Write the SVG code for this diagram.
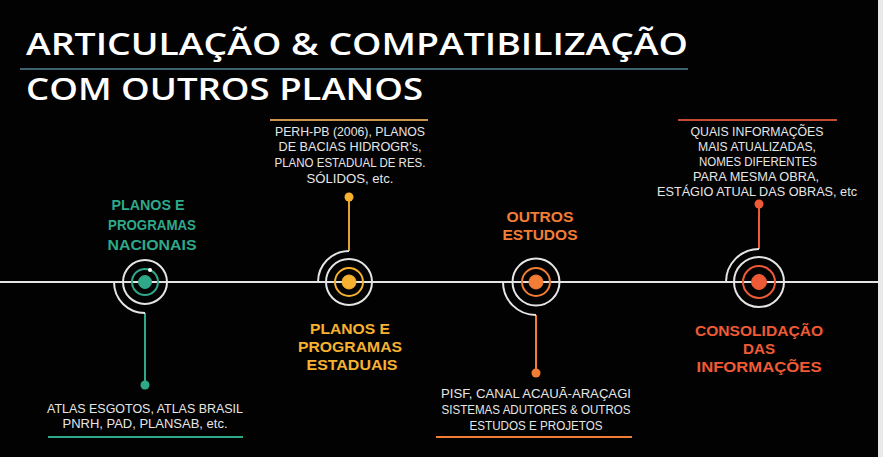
<svg xmlns="http://www.w3.org/2000/svg" width="883" height="457" viewBox="0 0 883 457">
<style>
.title{font-family:"Open Sans","Noto Sans",sans-serif;font-weight:600;font-size:31px;fill:#ffffff}
.head{font-family:"Liberation Sans","Arial",sans-serif;font-weight:700;font-size:15.5px;text-anchor:middle}
.body{font-family:"Liberation Sans","DejaVu Sans",sans-serif;font-size:12px;fill:#e6e6e6;text-anchor:middle}
.white{fill:none;stroke:#e4e4e4;stroke-width:2}
.teal{fill:#2fa88a;stroke:#2fa88a}
.gold{fill:#f6b12f;stroke:#f6b12f}
.orange{fill:#f27d35;stroke:#f27d35}
.red{fill:#ef5a36;stroke:#ef5a36}
.ring{fill:none;stroke-width:2}
</style>
<rect x="0" y="0" width="883" height="457" fill="#020202"/>
<rect x="878" y="0" width="5" height="457" fill="#e9e9e9"/>
<g id="title">
<text class="title" x="26" y="55" textLength="662" lengthAdjust="spacingAndGlyphs">ARTICULAÇÃO &amp; COMPATIBILIZAÇÃO</text>
<line x1="20" y1="69" x2="688" y2="69" stroke="#3e6170" stroke-width="2"/>
<text class="title" x="26" y="100" textLength="397" lengthAdjust="spacingAndGlyphs">COM OUTROS PLANOS</text>
</g>
<g id="connectors">
<line x1="0" y1="282" x2="878" y2="282" stroke="#e4e4e4" stroke-width="2"/>
<line x1="145" y1="313" x2="145" y2="385" stroke="#2fa88a" stroke-width="2"/>
<circle cx="145" cy="385" r="4.5" fill="#2fa88a"/>
<line x1="349" y1="251" x2="349" y2="197" stroke="#e0a235" stroke-width="2"/>
<circle cx="349" cy="197" r="4.5" fill="#f6b12f"/>
<line x1="536" y1="315" x2="536" y2="373" stroke="#f27d35" stroke-width="2"/>
<circle cx="536" cy="373" r="4.5" fill="#f27d35"/>
<line x1="759" y1="249" x2="759" y2="204" stroke="#ef5a36" stroke-width="2"/>
<circle cx="759" cy="204" r="4.5" fill="#ef5a36"/>
</g>
<g id="node-nacionais">
<path class="white" d="M114 282 A31 31 0 0 0 145 313"/>
<circle class="white" cx="145" cy="282" r="22"/>
<circle class="ring teal" cx="145" cy="282" r="13"/>
<circle class="teal" cx="145" cy="282" r="6.5" stroke="none"/>
<circle cx="150" cy="270" r="2" fill="#ffffff"/>
<g class="head" fill="#2fa88a">
<text x="148" y="210" textLength="73" lengthAdjust="spacingAndGlyphs">PLANOS E</text>
<text x="152" y="230" textLength="88" lengthAdjust="spacingAndGlyphs">PROGRAMAS</text>
<text x="152" y="250" textLength="89" lengthAdjust="spacingAndGlyphs">NACIONAIS</text>
</g>
<g class="body">
<text x="145" y="413" textLength="196" lengthAdjust="spacingAndGlyphs">ATLAS ESGOTOS, ATLAS BRASIL</text>
<text x="145" y="428" textLength="165" lengthAdjust="spacingAndGlyphs">PNRH, PAD, PLANSAB, etc.</text>
</g>
<line x1="48" y1="437" x2="243" y2="437" stroke="#2fa88a" stroke-width="2"/>
</g>
<g id="node-estaduais">
<path class="white" d="M318 282 A31 31 0 0 1 349 251"/>
<circle class="white" cx="349" cy="282" r="23"/>
<circle class="ring gold" cx="349" cy="282" r="14" stroke="#e0a235"/>
<circle class="gold" cx="349" cy="282" r="7" stroke="none"/>
<line x1="270" y1="120" x2="428" y2="120" stroke="#c9954c" stroke-width="2"/>
<g class="body">
<text x="350" y="136" textLength="150" lengthAdjust="spacingAndGlyphs">PERH-PB (2006), PLANOS</text>
<text x="350" y="151" textLength="143" lengthAdjust="spacingAndGlyphs">DE BACIAS HIDROGR's,</text>
<text x="350" y="167" textLength="151" lengthAdjust="spacingAndGlyphs">PLANO ESTADUAL DE RES.</text>
<text x="350" y="183" textLength="87" lengthAdjust="spacingAndGlyphs">SÓLIDOS, etc.</text>
</g>
<g class="head" fill="#f6b12f">
<text x="350" y="334" textLength="80" lengthAdjust="spacingAndGlyphs">PLANOS E</text>
<text x="350" y="352" textLength="104" lengthAdjust="spacingAndGlyphs">PROGRAMAS</text>
<text x="352" y="370" textLength="91" lengthAdjust="spacingAndGlyphs">ESTADUAIS</text>
</g>
</g>
<g id="node-outros">
<path class="white" d="M503 282 A33 33 0 0 0 536 315"/>
<circle class="white" cx="536" cy="282" r="23.5"/>
<circle class="ring orange" cx="536" cy="282" r="14"/>
<circle class="orange" cx="536" cy="282" r="7" stroke="none"/>
<g class="head" fill="#f27d35">
<text x="540" y="222" textLength="67" lengthAdjust="spacingAndGlyphs">OUTROS</text>
<text x="540" y="240" textLength="75" lengthAdjust="spacingAndGlyphs">ESTUDOS</text>
</g>
<g class="body">
<text x="536" y="398" textLength="190" lengthAdjust="spacingAndGlyphs">PISF, CANAL ACAUÃ-ARAÇAGI</text>
<text x="536" y="414" textLength="189" lengthAdjust="spacingAndGlyphs">SISTEMAS ADUTORES &amp; OUTROS</text>
<text x="536" y="430" textLength="133" lengthAdjust="spacingAndGlyphs">ESTUDOS E PROJETOS</text>
</g>
<line x1="436" y1="437" x2="632" y2="437" stroke="#f27d35" stroke-width="2"/>
</g>
<g id="node-consolidacao">
<path class="white" d="M726 282 A33 33 0 0 1 759 249"/>
<circle class="white" cx="759" cy="282" r="25"/>
<circle class="ring red" cx="759" cy="282" r="16"/>
<circle class="red" cx="759" cy="282" r="7.5" stroke="none"/>
<line x1="678" y1="120" x2="837" y2="120" stroke="#c84a35" stroke-width="2"/>
<g class="body">
<text x="757" y="136" textLength="133" lengthAdjust="spacingAndGlyphs">QUAIS INFORMAÇÕES</text>
<text x="757" y="151" textLength="118" lengthAdjust="spacingAndGlyphs">MAIS ATUALIZADAS,</text>
<text x="758" y="166" textLength="118" lengthAdjust="spacingAndGlyphs">NOMES DIFERENTES</text>
<text x="756" y="181" textLength="126" lengthAdjust="spacingAndGlyphs">PARA MESMA OBRA,</text>
<text x="757" y="196" textLength="200" lengthAdjust="spacingAndGlyphs">ESTÁGIO ATUAL DAS OBRAS, etc</text>
</g>
<g class="head" fill="#ef5a36">
<text x="759" y="336" textLength="128" lengthAdjust="spacingAndGlyphs">CONSOLIDAÇÃO</text>
<text x="759" y="354" textLength="32" lengthAdjust="spacingAndGlyphs">DAS</text>
<text x="759" y="372" textLength="125" lengthAdjust="spacingAndGlyphs">INFORMAÇÕES</text>
</g>
</g>
</svg>
